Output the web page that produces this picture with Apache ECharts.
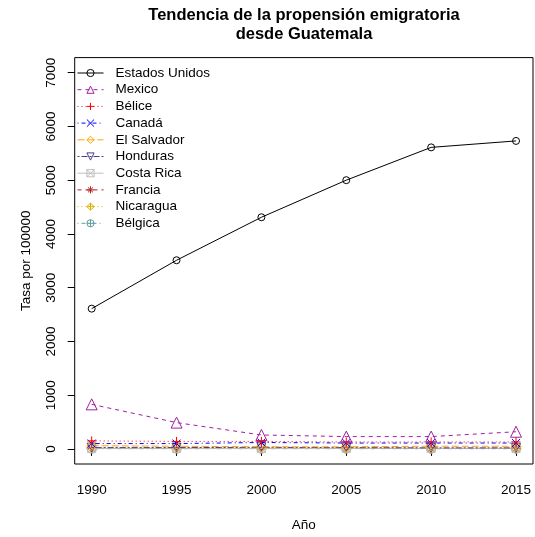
<!DOCTYPE html>
<html>
<head>
<meta charset="utf-8">
<script src="https://cdn.jsdelivr.net/npm/echarts@6/dist/echarts.min.js"></script>
<style>html,body{margin:0;padding:0;background:#fff}#c{width:535px;height:537px}</style>
</head>
<body>
<div id="c"></div>
<script>
// ---- data ----
const years = [1990, 1995, 2000, 2005, 2010, 2015];
const yTicks = [0, 1000, 2000, 3000, 4000, 5000, 6000, 7000];
const countries = ["Estados Unidos", "Mexico", "Bélice", "Canadá", "El Salvador", "Honduras", "Costa Rica", "Francia", "Nicaragua", "Bélgica"];
const estadosUnidos = [2610, 3510, 4310, 5000, 5610, 5730];
const mexico = [830, 490, 260, 230, 230, 320];
const belice = [150, 140, 140, 130, 130, 130];
const canada = [100, 100, 120, 110, 110, 110];
const elSalvador = [60, 50, 40, 40, 50, 50];
const honduras = [25, 25, 30, 25, 20, 20];
const costaRica = [10, 10, 10, 10, 10, 10];
const francia = [10, 10, 10, 10, 10, 10];
const nicaragua = [20, 20, 20, 15, 10, 10];
const belgica = [5, 5, 5, 5, 5, 5];

const seriesValues = [estadosUnidos, mexico, belice, canada, elSalvador, honduras, costaRica, francia, nicaragua, belgica];

// ---- styles ----
const colors = ["#000000", "#A020A0", "#FF0000", "#0000FF", "#FFA500", "#483D8B", "#BEBEBE", "#B22222", "#E0B000", "#5F9EA0"];
const dashes = ["solid", [4, 4], [1, 3], [1, 3, 4, 3], [7, 3], [2, 2, 6, 2], "solid", [4, 4], [1, 3], [1, 3, 4, 3]];
const symbols = [
  "circle",
  "triangle",
  "path://M5,0L5,10M0,5L10,5",
  "path://M0,0L10,10M10,0L0,10",
  "diamond",
  "path://M0,0L10,0L5,9Z",
  "path://M0,0L10,0L10,10L0,10ZM0,0L10,10M10,0L0,10",
  "path://M5,0L5,10M0,5L10,5M1.5,1.5L8.5,8.5M8.5,1.5L1.5,8.5",
  "path://M5,0L10,5L5,10L0,5ZM5,0L5,10M0,5L10,5",
  "path://M0,5A5,5,0,1,1,10,5A5,5,0,1,1,0,5ZM5,0L5,10M0,5L10,5"
];
const symSizes = [7, 11, 9, 8, 10, 9, 8, 9, 10, 9];
const FONT = "'Liberation Sans', Arial, sans-serif";

const chart = echarts.init(document.getElementById('c'), null, {renderer: 'canvas'});
const series = countries.map((name, i) => ({
  name: name,
  type: 'line',
  data: years.map((y, j) => [y, seriesValues[i][j]]),
  symbol: symbols[i],
  symbolSize: symSizes[i],
  showAllSymbol: true,
  color: colors[i],
  lineStyle: {color: colors[i], width: 1, type: dashes[i]},
  itemStyle: {color: 'rgba(0,0,0,0)', borderColor: colors[i], borderWidth: 1},
  emphasis: {disabled: true},
  animation: false,
  z: 10 - i
}));

chart.setOption({
  backgroundColor: '#fff',
  animation: false,
  title: {
    text: 'Tendencia de la propensión emigratoria\ndesde Guatemala',
    left: 299, textAlign: 'center', top: 1,
    textStyle: {fontFamily: FONT, fontSize: 16.5, fontWeight: 'bold', color: '#000', lineHeight: 19}
  },
  legend: {
    data: countries,
    orient: 'vertical',
    left: 72, top: 61,
    itemWidth: 26, itemHeight: 9, itemGap: 2.7,
    itemStyle: {borderWidth: 1},
    lineStyle: {width: 1},
    textStyle: {fontFamily: FONT, fontSize: 13.5, color: '#000', padding: [0, 0, 0, 7]},
    selectedMode: false
  },
  grid: {left: 74.7, right: 2, top: 57.6, bottom: 71.9, show: true, borderColor: '#000', borderWidth: 1, backgroundColor: 'transparent'},
  xAxis: {
    type: 'value', min: 1989, max: 2016,
    name: 'Año', nameLocation: 'middle', nameGap: 54,
    nameTextStyle: {fontFamily: FONT, fontSize: 13.5, color: '#000'},
    axisLine: {show: false},
    axisTick: {show: true, length: 7, customValues: years, lineStyle: {color: '#000'}},
    axisLabel: {customValues: years, margin: 19, fontFamily: FONT, fontSize: 13.5, color: '#000', formatter: v => String(v)},
    splitLine: {show: false}
  },
  yAxis: {
    type: 'value', min: -280, max: 7280,
    name: 'Tasa por 100000', nameLocation: 'middle', nameGap: 41,
    nameTextStyle: {fontFamily: FONT, fontSize: 13.5, color: '#000'},
    axisLine: {show: false},
    axisTick: {show: true, length: 7, customValues: yTicks, lineStyle: {color: '#000'}},
    axisLabel: {customValues: yTicks, rotate: 90, margin: 16, fontFamily: FONT, fontSize: 13.5, color: '#000', formatter: v => String(v)},
    splitLine: {show: false}
  },
  series: series
});
</script>
</body>
</html>
